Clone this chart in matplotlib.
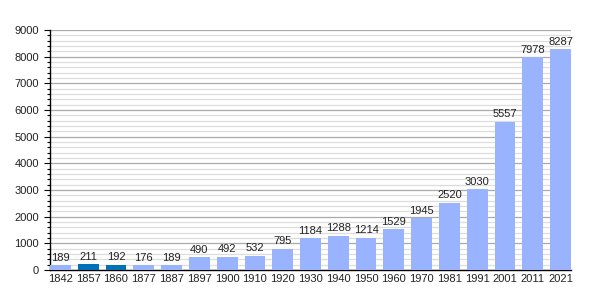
import matplotlib.pyplot as plt
from matplotlib.ticker import MultipleLocator

plt.rcParams['font.family'] = ['Liberation Sans', 'DejaVu Sans']

years = ['1842', '1857', '1860', '1877', '1887', '1897', '1900', '1910', '1920', '1930',
         '1940', '1950', '1960', '1970', '1981', '1991', '2001', '2011', '2021']
population = [189, 211, 192, 176, 189, 490, 492, 532, 795, 1184,
              1288, 1214, 1529, 1945, 2520, 3030, 5557, 7978, 8287]
highlight = ['1857', '1860']   # darker bars

light = '#99b3ff'
dark = '#0070b8'
colors = [dark if y in highlight else light for y in years]

fig = plt.figure(figsize=(6, 3), dpi=100)
ax = fig.add_axes([50 / 600, 30 / 300, 521 / 600, 240 / 300])

bw = 0.75
x = list(range(len(years)))
ax.bar(x, population, width=bw, color=colors, zorder=3)
for xi, v in zip(x, population):
    ax.text(xi, v + 90, str(v), ha='center', va='bottom', fontsize=8, color='#222222', zorder=4)

ax.set_xlim(-bw / 2, len(years) - 1 + bw / 2)
ax.set_ylim(0, 9000)
ax.yaxis.set_major_locator(MultipleLocator(1000))
ax.yaxis.set_minor_locator(MultipleLocator(200))
ax.grid(axis='y', which='major', color='#aaaaaa', linewidth=0.9, zorder=0)
ax.grid(axis='y', which='minor', color='#dddddd', linewidth=0.9, zorder=0)

ax.set_xticks(x)
ax.set_xticklabels(years, fontsize=8, color='#222222')
ax.tick_params(axis='x', length=0, pad=3)
ax.tick_params(axis='y', which='major', length=4, width=0.8, labelsize=8, labelcolor='#222222', pad=4)
ax.tick_params(axis='y', which='minor', length=2, width=0.8)

for s in ['top', 'right']:
    ax.spines[s].set_visible(False)
ax.spines['left'].set_linewidth(1)
ax.spines['bottom'].set_linewidth(1)

plt.savefig('out.png', dpi=100)
